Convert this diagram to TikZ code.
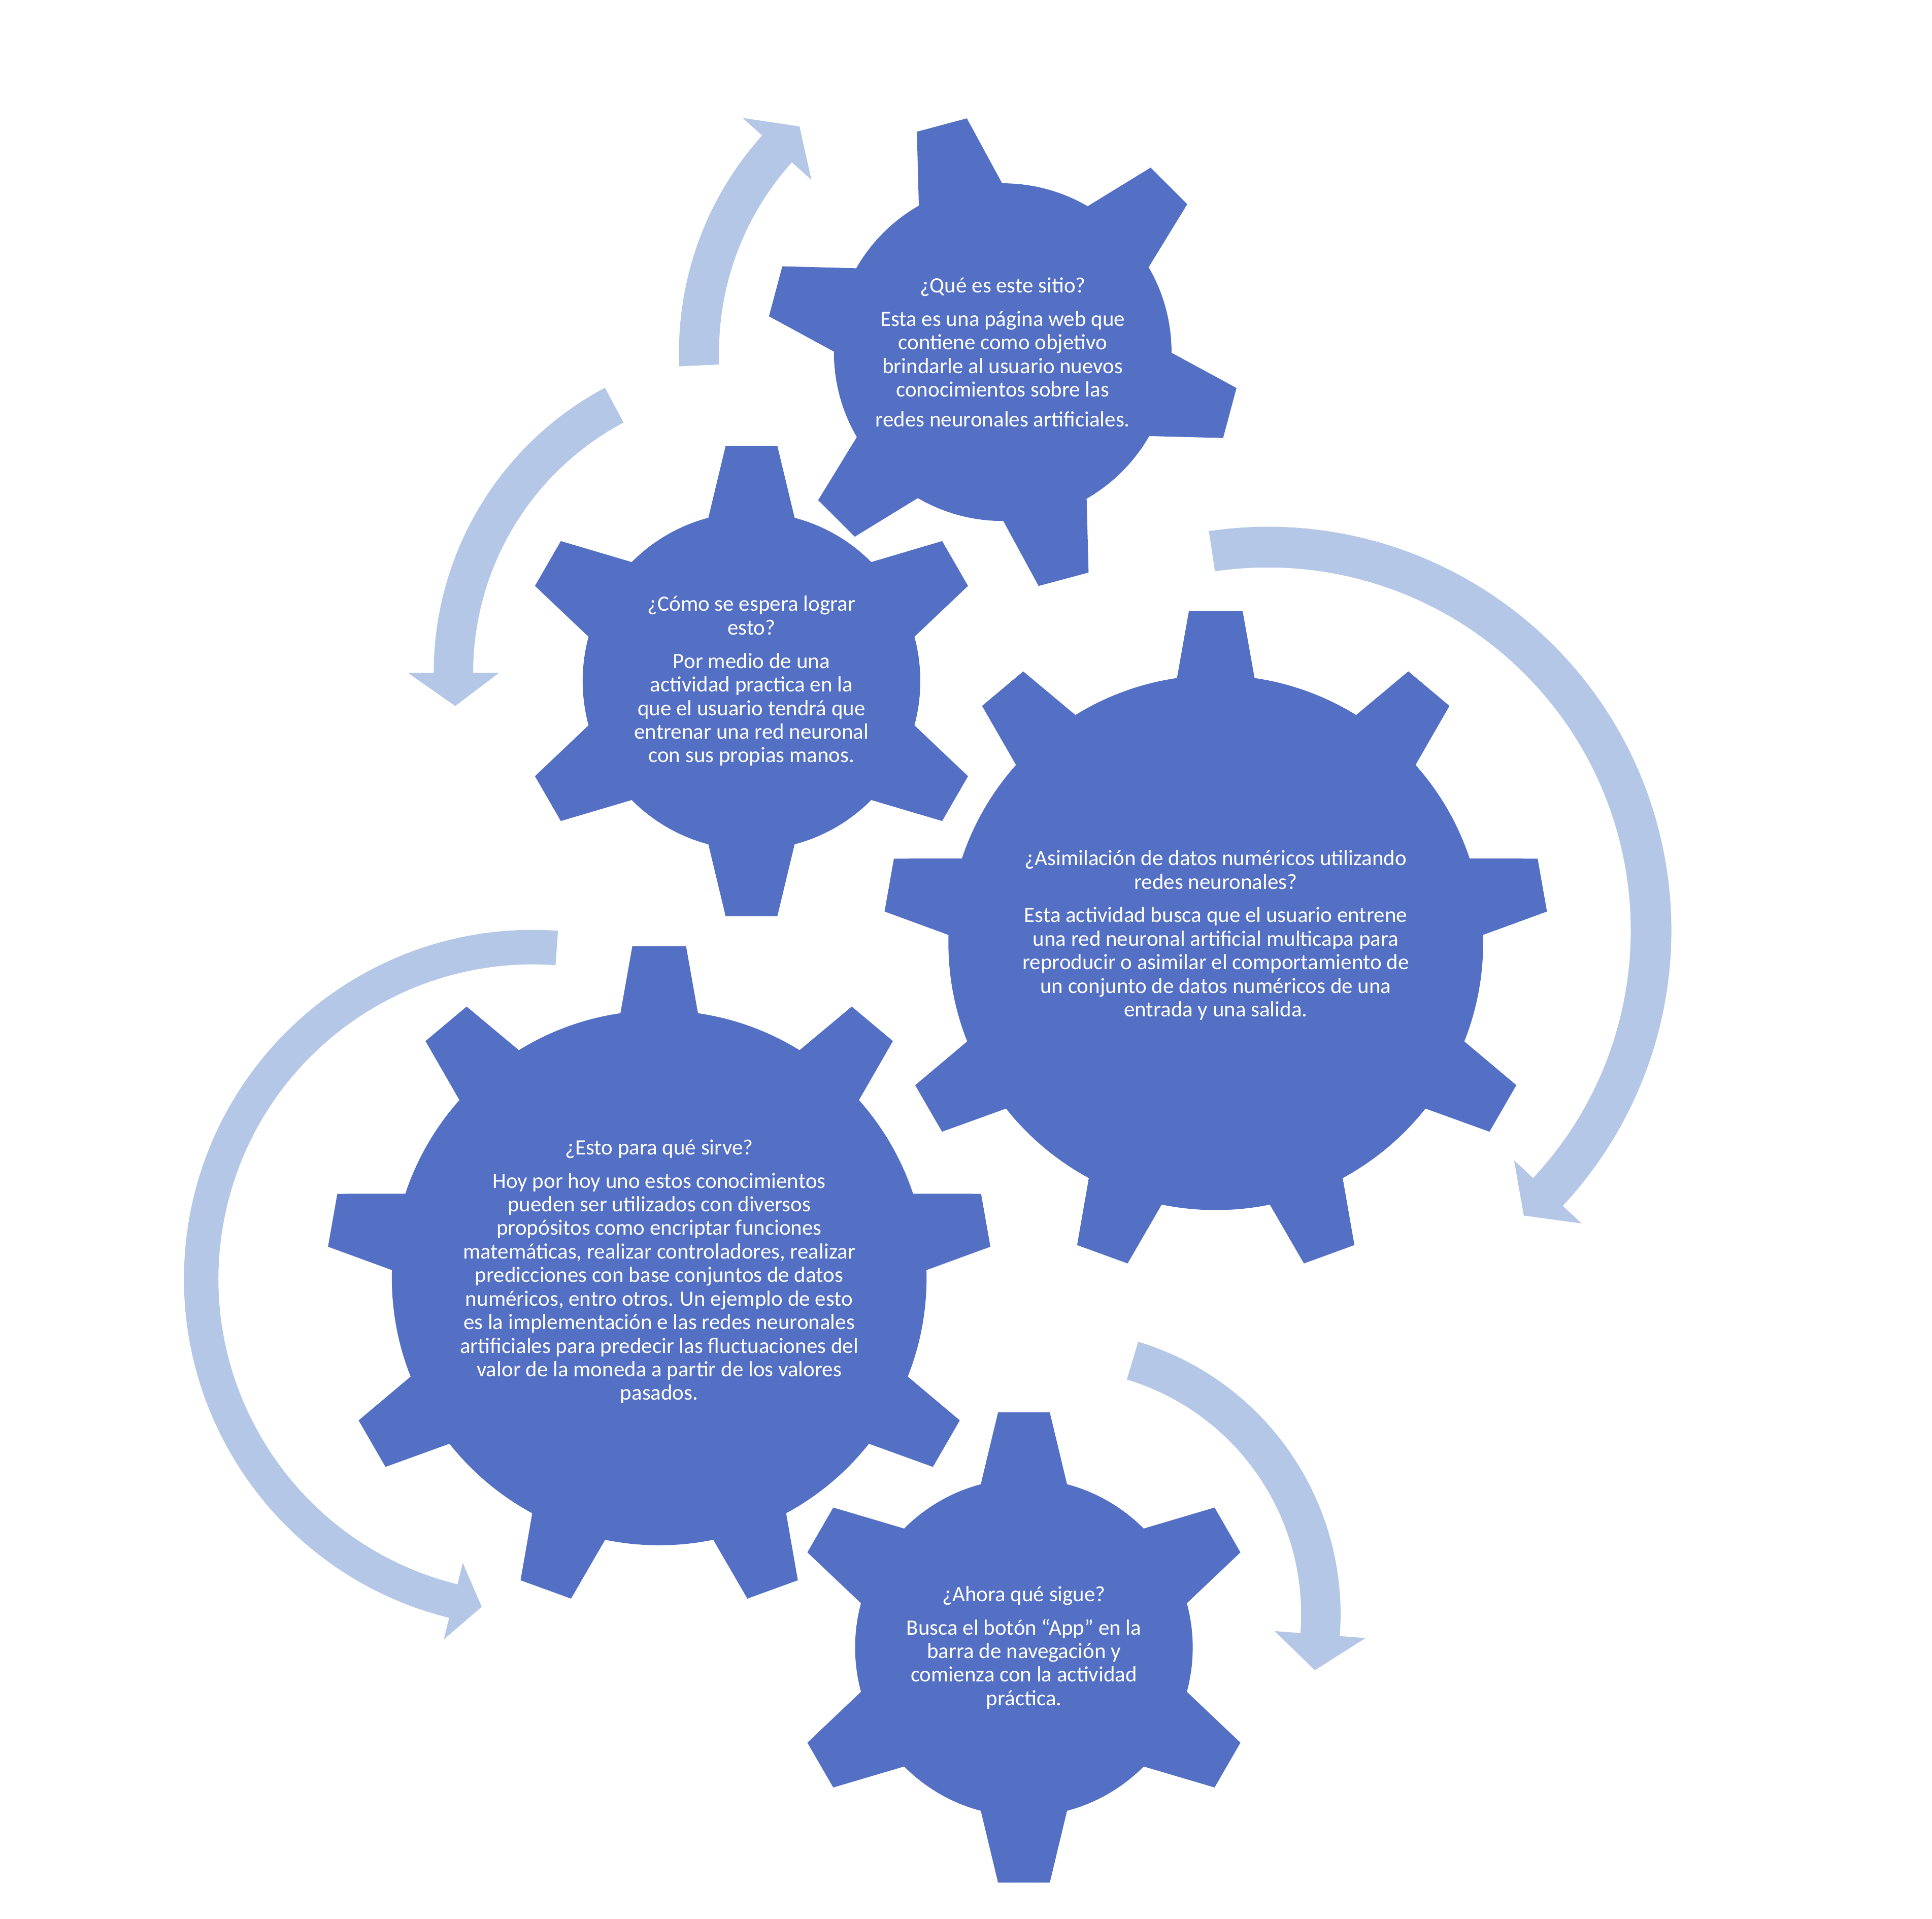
\documentclass[tikz,border=0pt]{standalone}
\usepackage{fontspec}
\setmainfont{Carlito}
\usepackage{tikz}
\usetikzlibrary{positioning}
\definecolor{gearblue}{RGB}{84,112,196}
\definecolor{arrowblue}{RGB}{180,199,231}
\tikzset{
  gear/.style={fill=gearblue},
  turn/.style={fill=arrowblue},
  geartext/.style={text=white, align=center, inner sep=0pt, font=\fontsize{12.6}{13.6}\selectfont}
}
% centre x, centre y, radius, half band, half head, start, end, tip
\newcommand{\turnarrow}[8]{%
  \fill[turn, shift={(#1,#2)}] ({#6}:{#3+#4}) arc[start angle={#6}, end angle={#7}, radius={#3+#4}]
    -- ({#7}:{#3+#5}) -- ({#8}:{#3}) -- ({#7}:{#3-#5}) -- ({#7}:{#3-#4})
    arc[start angle={#7}, end angle={#6}, radius={#3-#4}] -- cycle;}

\begin{document}
\begin{tikzpicture}[x=0.025cm, y=0.025cm]
   \useasboundingbox (0,0) rectangle (1568,1557.3);

   \turnarrow{813.8}{1271.5}{246.5}{16.25}{37.5}{182.5}{138}{132}
   \turnarrow{614}{1011.3}{246}{16}{37}{118}{180}{186.3}
   \turnarrow{1029}{802.3}{311}{16.5}{37.5}{98.4}{-43.05}{-48.1}
   \turnarrow{432.6}{519.4}{269.3}{14}{32}{85.9}{256.1}{261.1}
   \turnarrow{857}{247.3}{215}{16}{37}{73.2}{-4.4}{-12.2}

   \coordinate (g1) at (813.8,1271.5);
   \coordinate (g2) at (609.9,1004.6);
   \coordinate (g3) at (986.7,792.3);
   \coordinate (g4) at (535,520.3);
   \coordinate (g5) at (831,220.3);

   % small gears, six teeth
   \foreach \g/\off in {g1/45, g2/30, g5/30} {
   \begin{scope}[shift={(\g)}]
   \fill[gear] (0,0) circle [radius=137];
   \foreach \a in {0,60,...,300}
     \fill[gear, rotate=\a+\off] (120,-38) -- (190.8,-21) -- (190.8,21) -- (120,38) -- cycle;
   \end{scope}
   }
   % big gears, nine teeth
   \foreach \g in {g3, g4} {
   \begin{scope}[shift={(\g)}]
   \fill[gear] (0,0) circle [radius=217];
   \foreach \a in {10,50,...,330}
     \fill[gear, rotate=\a] (200,-34.1) -- (269.1,-21.8) -- (269.1,21.8) -- (200,34.1) -- cycle;
   \end{scope}
   }

   \node[geartext] (q1) at (g1) {¿Qué es este sitio?\\[5.7pt]
     Esta es una página web que\\contiene como objetivo\\brindarle al usuario nuevos\\conocimientos sobre las\\[3.6pt]
     redes neuronales artificiales.};
   \node[geartext] (q2) at (g2) {¿Cómo se espera lograr\\esto?\\[5.7pt]
     Por medio de una\\actividad practica en la\\que el usuario tendrá que\\entrenar una red neuronal\\con sus propias manos.};
   \node[geartext, yshift=4.3pt] (q3) at (g3) {¿Asimilación de datos numéricos utilizando\\redes neuronales?\\[5.7pt]
     Esta actividad busca que el usuario entrene\\una red neuronal artificial multicapa para\\reproducir o asimilar el comportamiento de\\un conjunto de datos numéricos de una\\entrada y una salida.};
   \node[geartext, yshift=3.6pt] (q4) at (g4) {¿Esto para qué sirve?\\[5.7pt]
     Hoy por hoy uno estos conocimientos\\pueden ser utilizados con diversos\\propósitos como encriptar funciones\\matemáticas, realizar controladores, realizar\\predicciones con base conjuntos de datos\\numéricos, entro otros. Un ejemplo de esto\\es la implementación e las redes neuronales\\artificiales para predecir las fluctuaciones del\\valor de la moneda a partir de los valores\\pasados.};
   \node[geartext] (q5) at (g5) {¿Ahora qué sigue?\\[5.7pt]
     Busca el botón “App” en la\\barra de navegación y\\comienza con la actividad\\práctica.};
\end{tikzpicture}
\end{document}
